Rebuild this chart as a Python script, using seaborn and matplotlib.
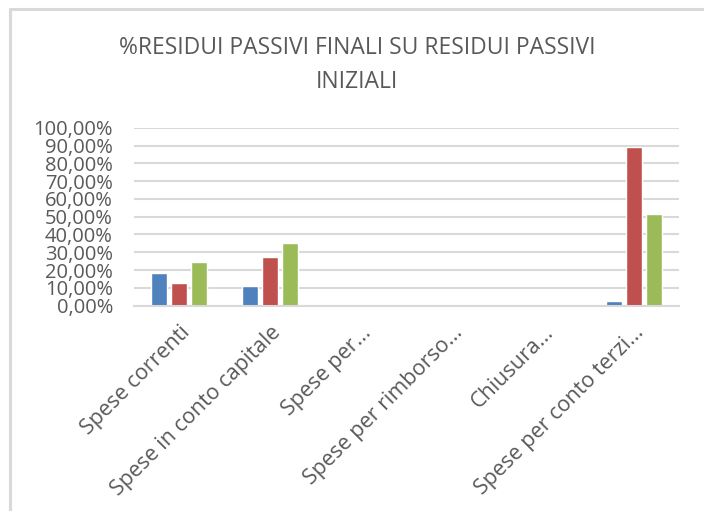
import pandas as pd
import matplotlib
matplotlib.use("Agg")
import matplotlib.pyplot as plt
from matplotlib.lines import Line2D
from matplotlib.ticker import FuncFormatter
import seaborn as sns

categories = ["Spese correnti", "Spese in conto capitale", "Spese per...",
              "Spese per rimborso...", "Chiusura...", "Spese per conto terzi..."]
series_names = ["Serie1", "Serie2", "Serie3"]
serie1 = [18.1, 10.8, 0, 0, 0, 2.6]
serie2 = [12.9, 27.3, 0, 0, 0, 89.3]
serie3 = [24.3, 35.1, 0, 0, 0, 51.3]
colors = ["#4F81BD", "#C0504D", "#9BBB59"]

df = pd.DataFrame({
    "cat": categories * 3,
    "serie": [s for s in series_names for _ in categories],
    "val": serie1 + serie2 + serie3,
})

sns.set_theme(style="white")
plt.rcParams["font.family"] = ["Open Sans", "DejaVu Sans"]

fig = plt.figure(figsize=(7.04, 5.11), dpi=100)
ax = fig.add_axes([0.190, 0.402, 0.7745, 0.348])

sns.barplot(data=df, x="cat", y="val", hue="serie", palette=colors,
            width=0.66, gap=0.2, ax=ax, legend=False, saturation=1)

ax.set_ylim(0, 100)
ax.set_yticks(range(0, 101, 10))
ax.yaxis.set_major_formatter(FuncFormatter(lambda v, p: f"{v:.2f}%".replace(".", ",")))
ax.set_xlim(-0.5, 5.5)
ax.grid(axis="y", color="#D9D9D9", linewidth=1.5)
ax.set_axisbelow(True)
for s in ["top", "right", "left"]:
    ax.spines[s].set_visible(False)
ax.spines["bottom"].set_color("#D9D9D9")
ax.spines["bottom"].set_linewidth(1.5)
ax.tick_params(axis="both", length=0, colors="#595959")
ax.tick_params(axis="y", pad=15, labelsize=14.5)
ax.tick_params(axis="x", pad=12, labelsize=15.5)
plt.setp(ax.get_xticklabels(), rotation=45, ha="right", rotation_mode="anchor")
ax.set_xlabel("")
ax.set_ylabel("")

fig.text(0.507, 0.907, "%RESIDUI PASSIVI FINALI SU RESIDUI PASSIVI", ha="center",
         va="center", fontsize=16.5, color="#595959")
fig.text(0.507, 0.840, "INIZIALI", ha="center", va="center", fontsize=16.5, color="#595959")

# chart frame border (cropped)
fig.add_artist(Line2D([0.014, 1.0], [0.982, 0.982], color="#D9D9D9", linewidth=2.2))
fig.add_artist(Line2D([0.014, 0.014], [0.0, 0.982], color="#D9D9D9", linewidth=2.2))

fig.savefig("out.png", dpi=100)
